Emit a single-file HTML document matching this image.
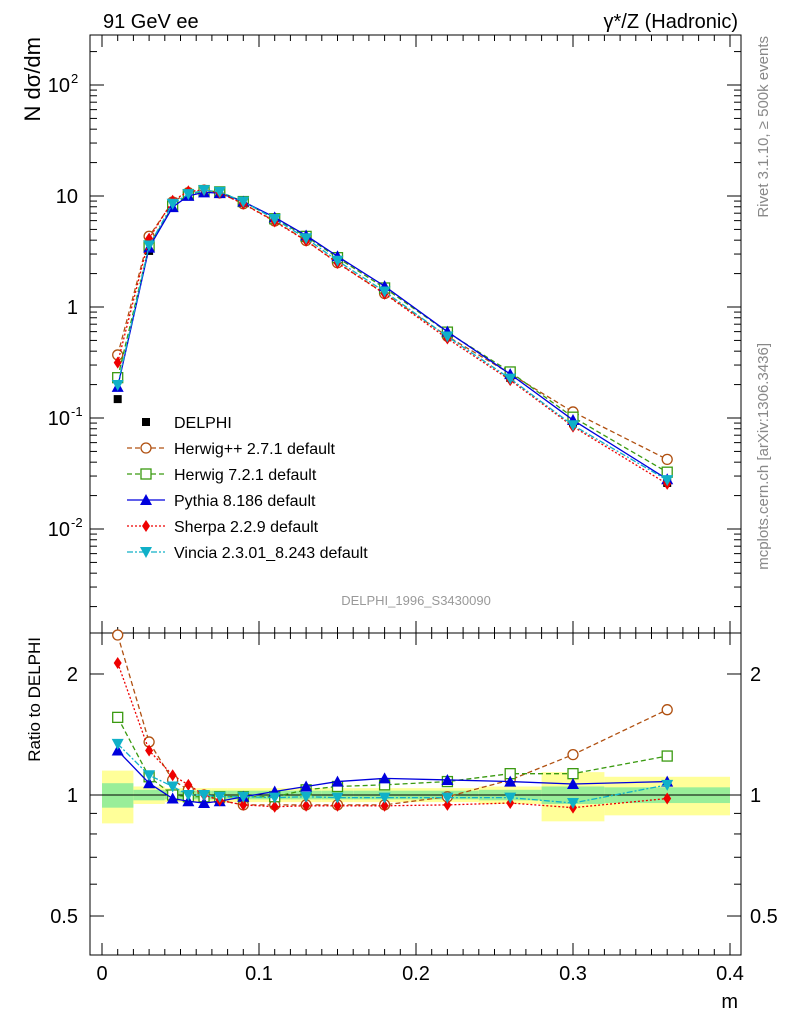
<!DOCTYPE html>
<html><head><meta charset="utf-8"><style>
body{margin:0;background:#fff;}
svg{font-family:"Liberation Sans",sans-serif;}
</style></head><body>
<svg id="c" width="786" height="1024" xmlns="http://www.w3.org/2000/svg">
<g id="bands"></g><g id="axes"></g><g id="data"></g><g id="series"></g><g id="legend"></g>
</svg>
<script>
const xs=[0.01,0.03,0.045,0.055,0.065,0.075,0.09,0.11,0.13,0.15,0.18,0.22,0.26,0.30,0.36];
const delphi=[0.148,3.2,8.1,10.4,11.3,11.0,9.0,6.3,4.2,2.65,1.4,0.55,0.23,0.09,0.026];
const rHerwigpp=[2.5,1.355,1.09,1.03,1.0,0.97,0.945,0.945,0.945,0.945,0.945,0.99,1.09,1.26,1.63];
const rHerwig7=[1.56,1.11,1.0,0.99,0.99,0.99,0.99,0.99,1.03,1.05,1.06,1.08,1.13,1.13,1.25];
const rPythia=[1.29,1.07,0.98,0.965,0.955,0.965,0.99,1.02,1.05,1.08,1.1,1.09,1.08,1.065,1.08];
const rSherpa=[2.13,1.29,1.12,1.06,1.0,0.97,0.945,0.935,0.94,0.94,0.94,0.945,0.955,0.93,0.98];
const rVincia=[1.34,1.12,1.05,1.0,1.0,0.99,0.99,0.985,0.99,0.985,0.985,0.985,0.985,0.955,1.06];
const binEdges=[0,0.02,0.04,0.05,0.06,0.07,0.08,0.1,0.12,0.14,0.16,0.2,0.24,0.28,0.32,0.4];
const totErr=[0.15,0.05,0.04,0.04,0.04,0.04,0.04,0.04,0.04,0.04,0.04,0.04,0.05,0.14,0.11];
const statErr=[0.07,0.03,0.025,0.025,0.025,0.025,0.025,0.025,0.025,0.025,0.025,0.025,0.03,0.05,0.045];
const NS='http://www.w3.org/2000/svg';
const X=v=>102+v*1570;
const Y=v=>196-111*(Math.log10(v)-1);
const R=v=>795-402*Math.log10(v);
function el(t,a,p){const e=document.createElementNS(NS,t);for(const k in a)e.setAttribute(k,a[k]);document.getElementById(p).appendChild(e);return e;}
function txt(s,x,y,size,anchor,p,fill){const e=el('text',{x:x,y:y,'font-size':size,'text-anchor':anchor||'start',fill:fill||'#000'},p);e.textContent=s;return e;}
for(let i=0;i<totErr.length;i++){
 const x1=X(binEdges[i]),x2=X(binEdges[i+1]);
 let b=el('rect',{x:x1,y:R(1+totErr[i]),width:x2-x1,height:R(1-totErr[i])-R(1+totErr[i]),fill:'#ffff99'},'bands');
 
 let g=el('rect',{x:x1,y:R(1+statErr[i]),width:x2-x1,height:R(1-statErr[i])-R(1+statErr[i]),fill:'#99ee99'},'bands');
 
}
el('line',{x1:90,x2:741,y1:R(1),y2:R(1),stroke:'#000','stroke-width':1},'bands');
el('rect',{x:90,y:35,width:651,height:598,fill:'none',stroke:'#000'},'axes');
el('rect',{x:90,y:633,width:651,height:322,fill:'none',stroke:'#000'},'axes');
for(let v=0;v<=0.4001;v+=0.01){const big=Math.abs(v*10-Math.round(v*10))<1e-6;const L=big?12:6;
 [[35,633],[633,955]].forEach(([t,b])=>{el('line',{x1:X(v),x2:X(v),y1:b,y2:b-L,stroke:'#000'},'axes');el('line',{x1:X(v),x2:X(v),y1:t,y2:t+L,stroke:'#000'},'axes');});
 if(big)txt(v===0?'0':v.toFixed(1),X(v),980,20,'middle','axes');}
txt('m',738,1008,20,'end','axes');
for(let d=-3;d<=2;d++)for(let m=1;m<10;m++){const v=m*Math.pow(10,d);const y=Y(v);if(y<35||y>633)continue;const L=m===1?14:7;
 el('line',{x1:90,x2:90+L,y1:y,y2:y,stroke:'#000'},'axes');el('line',{x1:741,x2:741-L,y1:y,y2:y,stroke:'#000'},'axes');}
[-2,-1,0,1,2].forEach(d=>{const y=Y(Math.pow(10,d))+7;
 if(d===0||d===1){txt(d===0?'1':'10',78,y,20,'end','axes');}
 else{txt('10',70,y,20,'end','axes');txt(String(d),71,y-9,13,'start','axes');}});
txt('N dσ/dm',0,0,22,'end','axes').setAttribute('transform','translate(40,37) rotate(-90)');
[0.5,0.6,0.7,0.8,0.9,1,2].forEach(v=>{const y=R(v);const L=(v===1||v===2||v===0.5)?14:7;
 el('line',{x1:90,x2:90+L,y1:y,y2:y,stroke:'#000'},'axes');el('line',{x1:741,x2:741-L,y1:y,y2:y,stroke:'#000'},'axes');});
[[2,'2'],[1,'1'],[0.5,'0.5']].forEach(([v,s])=>{txt(s,78,R(v)+7,20,'end','axes');txt(s,750,R(v)+7,20,'start','axes');});
txt('Ratio to DELPHI',0,0,17,'end','axes').setAttribute('transform','translate(40,637) rotate(-90)');
txt('91 GeV ee',103,28,20,'start','axes');
txt('γ*/Z (Hadronic)',738,28,20,'end','axes');
txt('DELPHI_1996_S3430090',416,605,13,'middle','axes','#999');
txt('Rivet 3.1.10, ≥ 500k events',0,0,15,'end','axes','#888').setAttribute('transform','translate(768,36) rotate(-90)');
txt('mcplots.cern.ch [arXiv:1306.3436]',0,0,15,'end','axes','#888').setAttribute('transform','translate(768,343) rotate(-90)');
xs.forEach((x,i)=>{let d=el('rect',{x:X(x)-4,y:Y(delphi[i])-4,width:8,height:8,fill:'#000'},'data');
 
 });
function marker(type,x,y,col,p){
 if(type==='circ')return el('circle',{cx:x,cy:y,r:5,fill:'#fff',stroke:col,'stroke-width':1.3},p);
 if(type==='sq')return el('rect',{x:x-5,y:y-5,width:10,height:10,fill:'#fff',stroke:col,'stroke-width':1.3},p);
 if(type==='tri')return el('polygon',{points:`${x},${y-6} ${x-6},${y+5} ${x+6},${y+5}`,fill:col},p);
 if(type==='dia')return el('polygon',{points:`${x},${y-6} ${x-4},${y} ${x},${y+6} ${x+4},${y}`,fill:col},p);
 if(type==='itri')return el('polygon',{points:`${x},${y+6} ${x-6},${y-5} ${x+6},${y-5}`,fill:col},p);
}
const series=[
 ['herwigpp',rHerwigpp,'#b05010','circ','5,3','Herwig++ 2.7.1 default'],
 ['herwig7',rHerwig7,'#3a9a10','sq','5,3','Herwig 7.2.1 default'],
 ['pythia',rPythia,'#0000dd','tri','','Pythia 8.186 default'],
 ['sherpa',rSherpa,'#ee0000','dia','2,2','Sherpa 2.2.9 default'],
 ['vincia',rVincia,'#10b0c8','itri','6,2,2,2','Vincia 2.3.01_8.243 default']];
series.forEach(([n,r,col,m,dash,lab],si)=>{
 const pm=xs.map((x,i)=>X(x)+','+Y(r[i]*delphi[i])).join(' ');
 const pr=xs.map((x,i)=>X(x)+','+R(r[i])).join(' ');
 let l1=el('polyline',{points:pm,fill:'none',stroke:col,'stroke-width':1.3,'stroke-dasharray':dash},'series');
 
 
 let l2=el('polyline',{points:pr,fill:'none',stroke:col,'stroke-width':1.3,'stroke-dasharray':dash},'series');
 
 
 xs.forEach((x,i)=>{let a=marker(m,X(x),Y(r[i]*delphi[i]),col,'series');
  
  
  let b=marker(m,X(x),R(r[i]),col,'series');
  
  });
 const ly=448+si*26;
 el('line',{x1:127,x2:165,y1:ly,y2:ly,stroke:col,'stroke-width':1.3,'stroke-dasharray':dash},'legend');
 marker(m,146,ly,col,'legend');
 let t=txt(lab,174,ly+6,16,'start','legend');
 
 
});
el('rect',{x:142,y:418,width:8,height:8,fill:'#000'},'legend');
let dl=txt('DELPHI',174,428,16,'start','legend');


</script>
</body></html>
